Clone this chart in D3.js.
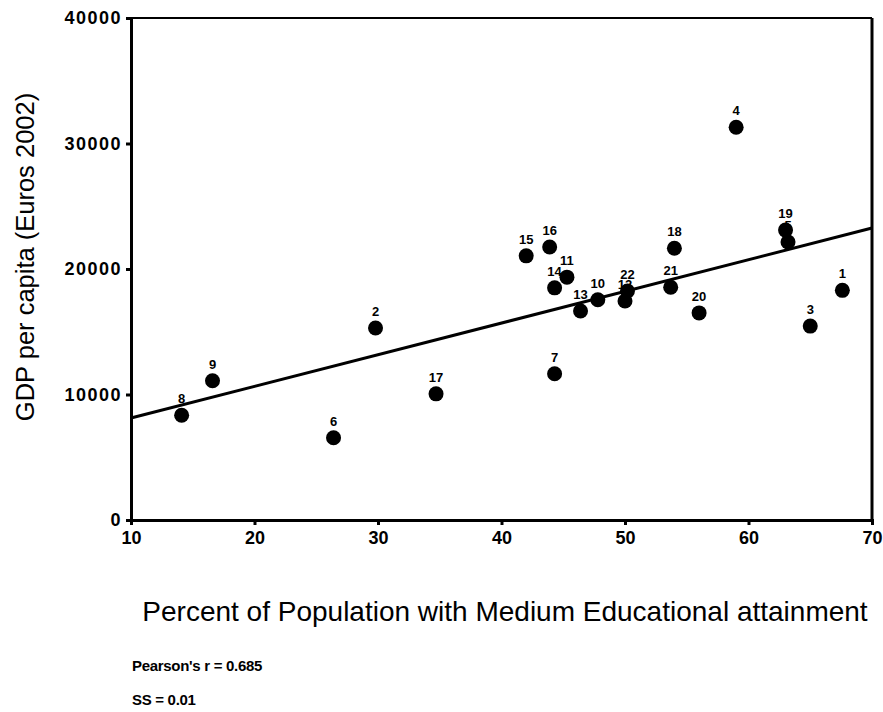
<!DOCTYPE html>
<html>
<head>
<meta charset="utf-8">
<script src="https://cdn.jsdelivr.net/npm/d3@7/dist/d3.min.js"></script>
<style>
  html, body { margin: 0; padding: 0; background: #fff; }
  svg { display: block; }
</style>
</head>
<body>
<svg id="chart" width="883" height="712"></svg>
<script>
// Regions (case numbers) with education share and GDP per capita
const regionIds = [1, 2, 3, 4, 5, 6, 7, 8, 9, 10, 11, 12, 13, 14, 15, 16, 17, 18, 19, 20, 21, 22];
const mediumEducation = [67.6, 29.8, 65.0, 59.0, 63.2, 26.4, 44.3, 14.1, 16.6, 47.8, 45.3, 50.0,
                         46.4, 44.3, 42.0, 43.9, 34.7, 54.0, 63.0, 56.0, 53.7, 50.2];
const gdpPerCapita = [18300, 15300, 15450, 31300, 22150, 6550, 11650, 8350, 11100, 17550, 19350, 17450,
                      16650, 18500, 21050, 21750, 10050, 21650, 23100, 16500, 18550, 18250];

// Linear fit: GDP = intercept + slope * education
const fitIntercept = [5604];
const fitSlope = [252.3];

const xTicks = [10, 20, 30, 40, 50, 60, 70];
const yTicks = [0, 10000, 20000, 30000, 40000];

const xTitle = "Percent of Population with Medium Educational attainment";
const yTitle = "GDP per capita (Euros 2002)";
const notes = ["Pearson's r = 0.685", "SS = 0.01"];

const svg = d3.select("#chart");
const plotLeft = 131, plotRight = 872, plotTop = 18, plotBottom = 520;

const x = d3.scaleLinear().domain([10, 70]).range([plotLeft, plotRight]);
const y = d3.scaleLinear().domain([0, 40000]).range([plotBottom, plotTop]);

const points = regionIds.map((id, i) => ({ id, ed: mediumEducation[i], gdp: gdpPerCapita[i] }));

// Frame: top and right edges
svg.append("line").attr("x1", plotLeft).attr("x2", plotRight).attr("y1", plotTop).attr("y2", plotTop)
  .attr("stroke", "#000").attr("stroke-width", 2);
svg.append("line").attr("x1", plotRight).attr("x2", plotRight).attr("y1", plotTop).attr("y2", plotBottom)
  .attr("stroke", "#000").attr("stroke-width", 3);

// Axes
const xAxis = svg.append("g").attr("transform", `translate(0,${plotBottom})`)
  .call(d3.axisBottom(x).tickValues(xTicks).tickSizeOuter(0).tickSize(5).tickPadding(4));
const yAxis = svg.append("g").attr("transform", `translate(${plotLeft},0)`)
  .call(d3.axisLeft(y).tickValues(yTicks).tickSizeOuter(0).tickSize(5).tickPadding(4).tickFormat(d3.format("d")));

[xAxis, yAxis].forEach(g => {
  g.select(".domain").attr("stroke", "#000").attr("stroke-width", 3);
  g.selectAll(".tick line").attr("stroke", "#000").attr("stroke-width", 3);
  g.selectAll(".tick text")
    .attr("fill", "#000")
    .style("font-family", "'Liberation Sans', Arial, sans-serif")
    .style("font-weight", "bold")
    .style("font-size", "18px");
});
xAxis.selectAll(".tick text").attr("dy", "0.85em");
yAxis.selectAll(".tick text").style("letter-spacing", "1.5px");

// Regression line
const fit = v => fitIntercept[0] + fitSlope[0] * v;
svg.append("line")
  .attr("x1", x(10)).attr("y1", y(fit(10)))
  .attr("x2", x(70)).attr("y2", y(fit(70)))
  .attr("stroke", "#000").attr("stroke-width", 3);

// Case labels (drawn beneath the markers)
svg.append("g").selectAll("text").data(points).join("text")
  .attr("x", d => x(d.ed))
  .attr("y", d => y(d.gdp) - 12)
  .attr("text-anchor", "middle")
  .style("font-family", "'Liberation Sans', Arial, sans-serif")
  .style("font-weight", "bold")
  .style("font-size", "13px")
  .text(d => d.id);

// Markers
svg.append("g").selectAll("circle").data(points).join("circle")
  .attr("cx", d => x(d.ed))
  .attr("cy", d => y(d.gdp))
  .attr("r", 7.5)
  .attr("fill", "#000");

// Axis titles
svg.append("text")
  .attr("x", 505)
  .attr("y", 621)
  .attr("text-anchor", "middle")
  .style("font-family", "'Liberation Sans', Arial, sans-serif")
  .style("font-size", "28px")
  .text(xTitle);

svg.append("text")
  .attr("transform", `translate(34,${(plotTop + plotBottom) / 2 - 12}) rotate(-90)`)
  .attr("text-anchor", "middle")
  .style("font-family", "'Liberation Sans', Arial, sans-serif")
  .style("font-size", "25.5px")
  .text(yTitle);

// Statistics notes
svg.append("g").selectAll("text").data(notes).join("text")
  .attr("x", 132)
  .attr("y", (d, i) => 671 + i * 34)
  .style("font-family", "'Liberation Sans Narrow', 'Arial Narrow', 'Liberation Sans', sans-serif")
  .style("font-weight", "bold")
  .style("font-size", "15px")
  .style("letter-spacing", "-0.3px")
  .text(d => d);
</script>
</body>
</html>
